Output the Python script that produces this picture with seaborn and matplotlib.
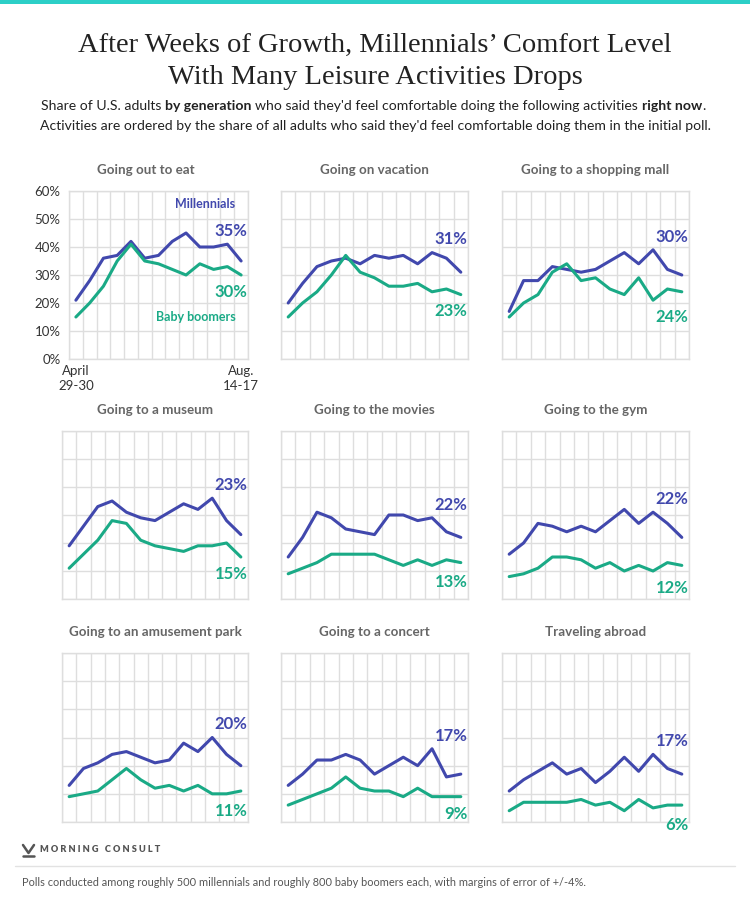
import numpy as np
import pandas as pd
import seaborn as sns
import matplotlib.pyplot as plt
from matplotlib.lines import Line2D
from matplotlib.patches import Rectangle

# survey waves, April 29-30 to Aug. 14-17
waves = list(range(13))

titles = ["Going out to eat", "Going on vacation", "Going to a shopping mall",
          "Going to a museum", "Going to the movies", "Going to the gym",
          "Going to an amusement park", "Going to a concert", "Traveling abroad"]

eat_mil = [21, 28, 36, 37, 42, 36, 37, 42, 45, 40, 40, 41, 35]
eat_boom = [15, 20, 26, 35, 41, 35, 34, 32, 30, 34, 32, 33, 30]
vacation_mil = [20, 27, 33, 35, 36, 34, 37, 36, 37, 34, 38, 36, 31]
vacation_boom = [15, 20, 24, 30, 37, 31, 29, 26, 26, 27, 24, 25, 23]
mall_mil = [17, 28, 28, 33, 32, 31, 32, 35, 38, 34, 39, 32, 30]
mall_boom = [15, 20, 23, 31, 34, 28, 29, 25, 23, 29, 21, 25, 24]
museum_mil = [19, 26, 33, 35, 31, 29, 28, 31, 34, 32, 36, 28, 23]
museum_boom = [11, 16, 21, 28, 27, 21, 19, 18, 17, 19, 19, 20, 15]
movies_mil = [15, 22, 31, 29, 25, 24, 23, 30, 30, 28, 29, 24, 22]
movies_boom = [9, 11, 13, 16, 16, 16, 16, 14, 12, 14, 12, 14, 13]
gym_mil = [16, 20, 27, 26, 24, 26, 24, 28, 32, 27, 31, 27, 22]
gym_boom = [8, 9, 11, 15, 15, 14, 11, 13, 10, 12, 10, 13, 12]
park_mil = [13, 19, 21, 24, 25, 23, 21, 22, 28, 25, 30, 24, 20]
park_boom = [9, 10, 11, 15, 19, 15, 12, 13, 11, 13, 10, 10, 11]
concert_mil = [13, 17, 22, 22, 24, 22, 17, 20, 23, 20, 26, 16, 17]
concert_boom = [6, 8, 10, 12, 16, 12, 11, 11, 9, 12, 9, 9, 9]
abroad_mil = [11, 15, 18, 21, 17, 19, 14, 18, 23, 18, 24, 19, 17]
abroad_boom = [4, 7, 7, 7, 7, 8, 6, 7, 4, 8, 5, 6, 6]

millennials = [eat_mil, vacation_mil, mall_mil, museum_mil, movies_mil,
               gym_mil, park_mil, concert_mil, abroad_mil]
boomers = [eat_boom, vacation_boom, mall_boom, museum_boom, movies_boom,
           gym_boom, park_boom, concert_boom, abroad_boom]

BLUE = "#4148ad"
GREEN = "#1aaa86"
GRID = "#dedede"

sns.set_theme(style="white")
plt.rcParams['font.family'] = ['Lato', 'DejaVu Sans']

W, H = 750, 900
fig = plt.figure(figsize=(7.5, 9), dpi=100)


def px_axes(l, t, r, b):
    return fig.add_axes([l / W, 1 - b / H, (r - l) / W, (b - t) / H])


# top teal strip
fig.add_artist(Rectangle((0, 1 - 4 / H), 1, 4 / H, transform=fig.transFigure,
                         color="#2ccfc7", lw=0))

fig.text(0.5, 1 - 45 / H, "After Weeks of Growth, Millennials’ Comfort Level",
         family="Liberation Serif", size=20.5, ha="center", va="center", color="#222")
fig.text(0.5, 1 - 78 / H, "With Many Leisure Activities Drops",
         family="Liberation Serif", size=20.5, ha="center", va="center", color="#222")

renderer = fig.canvas.get_renderer()


def rich_line(y, pieces, size):
    sp = (fig.text(0, 0, "x x", size=size).get_window_extent(renderer).width
          - fig.text(0, 0, "xx", size=size).get_window_extent(renderer).width)
    for t in fig.texts[-2:]:
        t.remove()
    objs = []
    for s, w in pieces:
        objs.append(fig.text(0, 1 - y / H, s.strip(), size=size, weight=w,
                             va="center", color="#222"))
    widths = [o.get_window_extent(renderer).width for o in objs]
    total = sum(widths) + sp * (len(objs) - 1)
    x = (W - total) / 2
    for o, w in zip(objs, widths):
        o.set_x(x / W)
        x += w + sp


rich_line(106, [("Share of U.S. adults", "normal"), ("by generation", "bold"),
                ("who said they'd feel comfortable doing the following activities", "normal"),
                ("right now", "bold"), (".", "normal")], 10.1)
# no space before the period
last = fig.texts[-1]
prev = fig.texts[-2]
bb = prev.get_window_extent(renderer)
last.set_x(bb.x1 / W)

rich_line(126, [("Activities are ordered by the share of all adults who said they'd feel "
                 "comfortable doing them in the initial poll.", "normal")], 10.1)

cols = [(69, 248), (281, 468), (502, 689)]
rows = [(191, 359), (431, 599), (653, 822)]

for i, name in enumerate(titles):
    r, c = divmod(i, 3)
    left, right = cols[c]
    if i in (3, 6):
        left = 62
    top, bottom = rows[r]
    ax = px_axes(left, top, right, bottom)

    df = pd.DataFrame({"wave": waves + waves,
                       "share": millennials[i] + boomers[i],
                       "group": ["Millennials"] * 13 + ["Baby boomers"] * 13})
    sns.lineplot(data=df, x="wave", y="share", hue="group",
                 palette={"Millennials": BLUE, "Baby boomers": GREEN},
                 lw=2.2, legend=False, ax=ax, zorder=3)

    ax.set_xlim(-0.5, 12.5)
    ax.set_ylim(0, 60)
    ax.set_yticks(range(0, 61, 10))
    ax.set_xticks(np.arange(-0.5, 13, 1), minor=True)
    ax.grid(which="minor", axis="x", color=GRID, lw=1)
    ax.grid(which="major", axis="y", color=GRID, lw=1)
    ax.tick_params(which="both", length=0)
    for s in ax.spines.values():
        s.set_color(GRID)
        s.set_linewidth(1)
    ax.set_xlabel("")
    ax.set_ylabel("")

    if i == 0:
        ax.set_yticklabels([f"{v}%" for v in range(0, 61, 10)], size=9.5, color="#333")
        ax.set_xticks([0, 12])
        ax.set_xticklabels(["April\n29-30", "Aug.\n14-17"], size=9.5, color="#333",
                           linespacing=1.3)
        ax.tick_params(axis="y", pad=6)
        ax.tick_params(axis="x", pad=4)
        ax.text(11.6, 55.3, "Millennials", color=BLUE, weight="bold", size=9,
                ha="right", va="center")
        ax.text(11.6, 15.1, "Baby boomers", color=GREEN, weight="bold", size=9,
                ha="right", va="center")
        ax.set_title(name, x=0.43, pad=12, size=9.6, weight="bold", color="#666")
    else:
        ax.set_yticklabels([])
        ax.set_xticks([])
        ax.set_title(name, pad=12, size=9.6, weight="bold", color="#666")

    m_end = millennials[i][-1]
    b_end = boomers[i][-1]
    ax.text(12.45, max(millennials[i][-3:]) + 4.7, f"{m_end}%", color=BLUE,
            weight="bold", size=12, ha="right", va="center")
    ax.text(12.45, min(boomers[i][-3:]) - 6, f"{b_end}%", color=GREEN,
            weight="bold", size=12, ha="right", va="center")

# footer
logo = [(23, 845), (28.5, 853), (34, 845)]
fig.add_artist(Line2D([p[0] / W for p in logo], [1 - p[1] / H for p in logo],
                      transform=fig.transFigure, color="#555", lw=1.8))
fig.add_artist(Line2D([23 / W, 34 / W], [1 - 856 / H, 1 - 856 / H],
                      transform=fig.transFigure, color="#555", lw=1.8))
fig.text(40 / W, 1 - 850 / H, "M O R N I N G   C O N S U L T", size=6.6,
         weight="heavy", color="#555", va="center")
fig.add_artist(Line2D([15 / W, 735 / W], [1 - 866 / H, 1 - 866 / H],
                      transform=fig.transFigure, color="#e2e2e2", lw=1))
fig.text(22 / W, 1 - 883 / H,
         "Polls conducted among roughly 500 millennials and roughly 800 baby boomers "
         "each, with margins of error of +/-4%.",
         size=7.9, color="#555", va="center")

fig.savefig("out.png", dpi=100, facecolor="white")
